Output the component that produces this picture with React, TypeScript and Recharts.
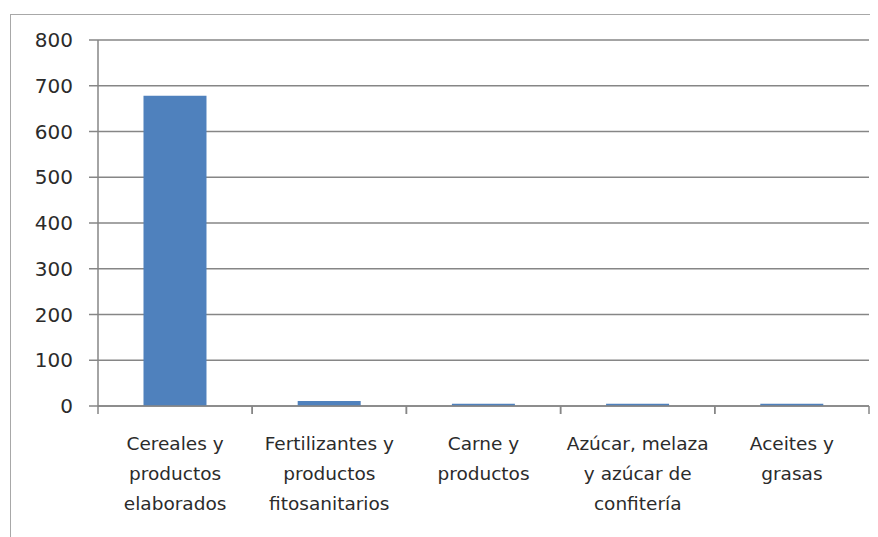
import React from 'react';
import { BarChart, Bar, XAxis, YAxis, CartesianGrid } from 'recharts';

const categories = [
  'Cereales y\nproductos\nelaborados',
  'Fertilizantes y\nproductos\nfitosanitarios',
  'Carne y\nproductos',
  'Azúcar, melaza\ny azúcar de\nconfitería',
  'Aceites y\ngrasas',
];
const values = [678, 11, 5, 5, 5];
const yTicks = [0, 100, 200, 300, 400, 500, 600, 700, 800];

const data = categories.map((name, i) => ({ name, value: values[i] }));

const FONT = '"DejaVu Sans", sans-serif';
const GRID = '#868686';
const BAND = 771 / 5;

const CategoryTick = (props: any) => {
  const { x, y, payload } = props;
  const lines: string[] = String(payload.value).split('\n');
  return (
    <g>
      <line x1={x - BAND / 2} y1={y - 8} x2={x - BAND / 2} y2={y} stroke={GRID} strokeWidth={1.5} />
      <line x1={x + BAND / 2} y1={y - 8} x2={x + BAND / 2} y2={y} stroke={GRID} strokeWidth={1.5} />
      <text x={x} y={y} textAnchor="middle" fill="#2b2b2b" fontFamily={FONT} fontSize={18.5}>
        {lines.map((l, i) => (
          <tspan key={i} x={x} dy={i === 0 ? 36 : 30}>{l}</tspan>
        ))}
      </text>
    </g>
  );
};

const App = () => {
  return (
    <div style={{ paddingTop: 6, paddingLeft: 2 }}>
      <div style={{ width: 868, height: 530, borderTop: '1.5px solid #a8a8a8', borderLeft: '1.5px solid #a8a8a8', background: '#fff' }}>
        <BarChart
          width={866}
          height={522}
          data={data}
          margin={{ top: 25, right: 8, bottom: 0, left: 0 }}
          barCategoryGap="29.5%"
        >
          <CartesianGrid vertical={false} stroke={GRID} strokeWidth={1.5} />
          <XAxis
            dataKey="name"
            interval={0}
            height={131}
            tickLine={false}
            axisLine={{ stroke: GRID, strokeWidth: 1.5 }}
            tick={<CategoryTick />}
            tickSize={8}
            tickMargin={0}
          />
          <YAxis
            domain={[0, 800]}
            ticks={yTicks}
            interval={0}
            width={87}
            tickSize={9}
            tickMargin={16}
            tickLine={{ stroke: GRID, strokeWidth: 1.5 }}
            axisLine={{ stroke: GRID, strokeWidth: 1.5 }}
            tick={{ fill: '#2b2b2b', fontFamily: FONT, fontSize: 20 }}
          />
          <Bar dataKey="value" fill="#4f81bd" isAnimationActive={false} />
        </BarChart>
      </div>
    </div>
  );
};

export default App;
